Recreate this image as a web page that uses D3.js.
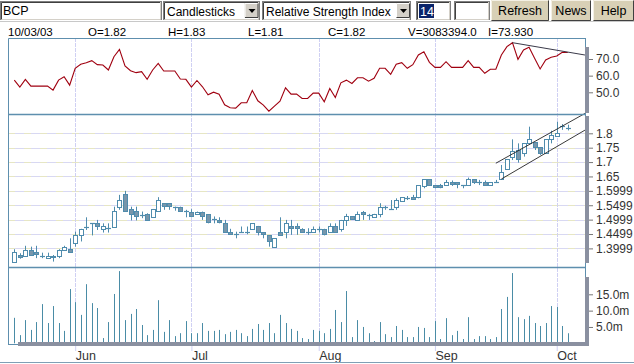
<!DOCTYPE html>
<html><head><meta charset="utf-8">
<script src="https://cdnjs.cloudflare.com/ajax/libs/d3/7.8.5/d3.min.js"></script>
<style>
html,body{margin:0;padding:0;background:#fff;overflow:hidden}
svg{display:block;font-family:"Liberation Sans",Arial,sans-serif}
</style></head><body>
<svg id="c" width="634" height="364"></svg>
<script>
// ---------- DATA ----------
const dates = [
"2003-05-16","2003-05-19","2003-05-20","2003-05-21","2003-05-22","2003-05-23","2003-05-26","2003-05-27","2003-05-28","2003-05-29","2003-05-30",
"2003-06-02","2003-06-03","2003-06-04","2003-06-05","2003-06-06","2003-06-09","2003-06-10","2003-06-11","2003-06-12","2003-06-13",
"2003-06-16","2003-06-17","2003-06-18","2003-06-19","2003-06-20","2003-06-23","2003-06-24","2003-06-25","2003-06-26","2003-06-27","2003-06-30",
"2003-07-01","2003-07-02","2003-07-03","2003-07-04","2003-07-07","2003-07-08","2003-07-09","2003-07-10","2003-07-11",
"2003-07-14","2003-07-15","2003-07-16","2003-07-17","2003-07-18","2003-07-21","2003-07-22","2003-07-23","2003-07-24","2003-07-25",
"2003-07-28","2003-07-29","2003-07-30","2003-07-31",
"2003-08-01","2003-08-04","2003-08-05","2003-08-06","2003-08-07","2003-08-08","2003-08-11","2003-08-12","2003-08-13","2003-08-14","2003-08-15",
"2003-08-18","2003-08-19","2003-08-20","2003-08-21","2003-08-22","2003-08-25","2003-08-26","2003-08-27","2003-08-28","2003-08-29",
"2003-09-01","2003-09-02","2003-09-03","2003-09-04","2003-09-05","2003-09-08","2003-09-09","2003-09-10","2003-09-11","2003-09-12",
"2003-09-15","2003-09-16","2003-09-17","2003-09-18","2003-09-19","2003-09-22","2003-09-23","2003-09-24","2003-09-25","2003-09-26",
"2003-09-29","2003-09-30","2003-10-01","2003-10-02","2003-10-03"];

const openP = [1.354,1.377,1.375,1.395,1.387,1.375,1.366,1.375,1.374,1.395,1.397,
1.418,1.445,1.476,1.487,1.487,1.467,1.470,1.476,1.545,1.588,1.537,1.530,1.516,1.519,1.508,1.530,1.557,1.557,1.545,1.545,1.531,
1.528,1.519,1.528,1.519,1.501,1.499,1.487,1.456,1.449,1.456,1.456,1.467,1.478,1.456,1.445,1.406,1.456,1.456,1.478,1.478,1.468,1.458,1.458,
1.468,1.468,1.458,1.478,1.468,1.499,1.511,1.499,1.528,1.515,1.508,1.520,1.543,1.537,1.545,1.566,1.574,1.578,1.578,1.617,1.640,
1.620,1.620,1.620,1.632,1.630,1.620,1.620,1.640,1.630,1.630,1.620,1.632,1.640,1.676,1.719,1.742,1.731,1.767,1.769,1.751,1.731,1.779,
1.791,1.826,1.82];
const highP = [1.397,1.383,1.409,1.406,1.409,1.385,1.385,1.377,1.397,1.409,1.435,
1.458,1.468,1.508,1.487,1.499,1.487,1.487,1.545,1.586,1.600,1.545,1.545,1.528,1.522,1.537,1.578,1.557,1.557,1.545,1.545,1.534,
1.536,1.528,1.528,1.519,1.511,1.508,1.499,1.468,1.458,1.476,1.476,1.487,1.478,1.456,1.445,1.435,1.508,1.499,1.499,1.487,1.470,1.470,1.476,
1.476,1.468,1.487,1.487,1.499,1.520,1.511,1.528,1.530,1.520,1.520,1.557,1.548,1.568,1.574,1.578,1.582,1.586,1.620,1.640,1.640,
1.620,1.624,1.638,1.636,1.630,1.620,1.646,1.640,1.638,1.636,1.630,1.638,1.690,1.710,1.779,1.765,1.765,1.823,1.769,1.751,1.779,1.809,
1.840,1.832,1.83];
const lowP = [1.354,1.364,1.375,1.375,1.366,1.366,1.366,1.354,1.366,1.395,1.389,
1.406,1.424,1.464,1.445,1.464,1.455,1.455,1.476,1.534,1.531,1.497,1.497,1.505,1.497,1.508,1.530,1.534,1.534,1.531,1.528,1.508,
1.508,1.519,1.499,1.487,1.487,1.487,1.455,1.447,1.435,1.456,1.449,1.467,1.445,1.435,1.406,1.406,1.447,1.435,1.447,1.447,1.456,1.447,1.456,
1.455,1.445,1.455,1.455,1.458,1.478,1.499,1.499,1.499,1.499,1.508,1.508,1.534,1.536,1.534,1.566,1.568,1.571,1.574,1.609,1.617,
1.609,1.609,1.617,1.617,1.609,1.609,1.620,1.624,1.620,1.620,1.620,1.629,1.640,1.676,1.707,1.698,1.719,1.765,1.742,1.725,1.731,1.765,
1.791,1.812,1.81];
const closeP = [1.387,1.369,1.395,1.378,1.379,1.375,1.375,1.369,1.395,1.406,1.389,
1.445,1.468,1.476,1.487,1.478,1.478,1.470,1.530,1.568,1.531,1.520,1.511,1.516,1.499,1.537,1.568,1.549,1.549,1.545,1.531,1.531,
1.511,1.528,1.513,1.490,1.501,1.491,1.458,1.449,1.449,1.456,1.456,1.487,1.458,1.449,1.427,1.435,1.447,1.487,1.470,1.470,1.458,1.458,1.468,
1.468,1.449,1.478,1.458,1.499,1.511,1.501,1.519,1.520,1.515,1.520,1.545,1.543,1.537,1.568,1.578,1.574,1.571,1.620,1.640,1.620,
1.612,1.612,1.632,1.624,1.624,1.620,1.640,1.632,1.630,1.620,1.630,1.632,1.667,1.710,1.740,1.710,1.765,1.779,1.754,1.733,1.779,1.794,
1.802,1.826,1.82];

const rsiValues = [57.3,53.1,57.8,53.7,53.7,53.7,53.7,51.3,57.3,59.3,54.3,
64.4,66.8,67.8,69.0,66.6,66.4,63.4,71.4,75.8,65.8,63.0,61.8,62.4,57.8,63.4,67.4,62.8,62.8,62.8,58.0,57.8,
53.1,57.1,53.3,48.5,50.1,48.9,42.5,40.7,40.5,43.7,43.7,51.1,44.9,42.3,38.7,41.7,44.7,52.7,48.9,48.9,46.3,46.3,49.5,
49.5,44.3,52.3,46.9,55.7,57.3,55.3,58.7,58.7,56.7,58.4,64.4,64.4,60.8,66.8,67.8,64.4,66.6,72.4,74.4,68.0,
65.0,65.0,68.4,65.0,65.0,65.0,69.0,65.0,65.0,61.4,63.8,63.8,72.4,77.4,79.8,69.8,75.4,77.0,70.4,64.0,69.4,71.0,
71.8,74.0,73.93];

const volumeM = [7.8,2.5,7.1,4.1,6.5,12.0,6.2,11.4,6.2,3.8,16.6,
12.6,8.7,18.1,12.3,10.8,1.6,6.5,15.1,22.1,7.1,9.0,10.5,5.6,2.5,4.1,13.2,3.5,7.1,2.2,3.1,6.8,
3.1,3.1,6.2,3.8,3.8,4.1,2.8,3.5,4.1,3.1,2.2,4.4,5.9,4.1,6.2,3.1,8.7,6.2,4.4,3.8,1.6,1.3,4.1,
3.8,3.1,4.4,10.2,6.5,16.0,1.9,7.1,5.0,3.1,0.7,6.5,2.8,1.9,5.3,4.1,1.9,1.9,5.0,4.7,1.9,
6.8,1.3,7.7,2.5,3.8,1.3,8.0,1.3,2.2,2.2,1.3,1.9,10.5,14.2,21.5,8.0,7.4,8.4,6.2,5.3,6.2,11.4,
11.1,5.3,3.08];

const monthNames = ["Jan","Feb","Mar","Apr","May","Jun","Jul","Aug","Sep","Oct","Nov","Dec"];
const rsiTicks = [70,60,50];
const priceTicks = [1.8,1.75,1.7,1.65,1.5999,1.5499,1.4999,1.4499,1.3999];
const volTicks = [15,10,5];
const headerItems = ["10/03/03","O=1.82","H=1.83","L=1.81","C=1.82","V=3083394.0","I=73.930"];
const rsiTrend = [[90,79.8],[103.1,72.4]];
const channelUpper = [[87,1.696],[103.1,1.869]];
const channelLower = [[88,1.641],[103.1,1.811]];

// ---------- LAYOUT ----------
const L = 8, R = 585;
const rsiTop = 38, rsiBot = 114, prTop = 114, prBot = 267, vTop = 267, vBot = 344;
const borderCol = "#5e8fae", candleCol = "#4f8cad", volCol = "#4a8ca6", gridV = "#cfd0f3";

const svg = d3.select("#c");

// ---------- TOOLBAR ----------
const tb = svg.append("g");
function sunkenBox(x, w){
  tb.append("rect").attr("x",x+0.5).attr("y",1.5).attr("width",w-1).attr("height",18).attr("fill","#fff").attr("stroke","#7f7f7f");
  tb.append("path").attr("d",`M${x+1.5},19 V2.5 H${x+w-1}`).attr("fill","none").attr("stroke","#404040");
  tb.append("path").attr("d",`M${x+1.5},19.5 H${x+w-1.5} V2`).attr("fill","none").attr("stroke","#d4d0c8");
}
function arrowBtn(x){
  tb.append("rect").attr("x",x).attr("y",3).attr("width",14).attr("height",15).attr("fill","#d4d0c8");
  tb.append("path").attr("d",`M${x+0.5},17.5 V3.5 H${x+13.5}`).attr("fill","none").attr("stroke","#fff");
  tb.append("path").attr("d",`M${x+0.5},17.5 H${x+13.5} V3.5`).attr("fill","none").attr("stroke","#404040");
  tb.append("path").attr("d",`M${x+4},9 h7 l-3.5,4 z`).attr("fill","#000");
}
function button(x, w, label){
  tb.append("rect").attr("x",x).attr("y",0).attr("width",w).attr("height",21).attr("fill","#d8d0b6");
  tb.append("path").attr("d",`M${x+0.5},20.5 V0.5 H${x+w-0.5}`).attr("fill","none").attr("stroke","#f4f0e4");
  tb.append("path").attr("d",`M${x+0.5},20.5 H${x+w-0.5} V0.5`).attr("fill","none").attr("stroke","#404040");
  tb.append("text").attr("x",x+w/2).attr("y",15).attr("text-anchor","middle").attr("font-size",12.5).attr("fill","#000").text(label);
}
sunkenBox(0,162);
tb.append("text").attr("x",3).attr("y",15).attr("font-size",12.5).text("BCP");
sunkenBox(163,97); arrowBtn(244.5);
tb.append("text").attr("x",167).attr("y",15.5).attr("font-size",12).text("Candlesticks");
sunkenBox(262,149); arrowBtn(396);
tb.append("text").attr("x",266).attr("y",15.5).attr("font-size",12).text("Relative Strength Index");
sunkenBox(416,35);
tb.append("rect").attr("x",419).attr("y",4).attr("width",15).attr("height",14).attr("fill","#0a246a");
tb.append("text").attr("x",420).attr("y",15.5).attr("font-size",12.5).attr("fill","#fff").text("14");
sunkenBox(454,36);
button(491,58,"Refresh");
button(551,40,"News");
button(593,41,"Help");
tb.append("line").attr("x1",0).attr("x2",634).attr("y1",21.5).attr("y2",21.5).attr("stroke","#c8c8c8");

// ---------- HEADER ----------
const hx = d3.scalePoint().domain(headerItems).range([8,488]);
svg.append("g").selectAll("text").data(headerItems).join("text")
  .attr("x",d=>hx(d)).attr("y",35.5).attr("font-size",11.5).attr("fill","#000").text(d=>d);

// ---------- SCALES ----------
const x = d3.scaleLinear().domain([0, dates.length-1]).range([14.3, 567.8]);
const yR = d3.scaleLinear().domain([50,70]).range([92.3,59]);
const yP = d3.scaleLinear().domain([1.3999,1.8]).range([248.4,133.3]);
const yV = d3.scaleLinear().domain([0,15]).range([343.3,294.3]);

const parse = d3.timeParse("%Y-%m-%d");
const dd = dates.map(parse);
const monthIdx = dd.map((d,i)=>i).filter(i=>i>0 && dd[i].getMonth()!==dd[i-1].getMonth());

// ---------- GRID ----------
const grid = svg.append("g");
grid.selectAll("line.pg").data(priceTicks).join("line")
  .attr("x1",L).attr("x2",R).attr("y1",d=>Math.round(yP(d))+0.5).attr("y2",d=>Math.round(yP(d))+0.5)
  .attr("stroke","#d8d8f2");
grid.selectAll("line.pg2").data(priceTicks).join("line")
  .attr("x1",L).attr("x2",R).attr("y1",d=>Math.round(yP(d))+0.5).attr("y2",d=>Math.round(yP(d))+0.5)
  .attr("stroke","#e6e6c4").attr("stroke-dasharray","7,9");
grid.selectAll("line.vg").data(monthIdx).join("line")
  .attr("x1",i=>Math.round(x(i))+0.5).attr("x2",i=>Math.round(x(i))+0.5)
  .attr("y1",rsiTop).attr("y2",vBot).attr("stroke",gridV).attr("stroke-dasharray","4,1");

// ---------- RSI ----------
svg.append("path").datum(rsiValues)
  .attr("d",d3.line().x((d,i)=>x(i)).y(d=>yR(d)))
  .attr("fill","none").attr("stroke","#a00010").attr("stroke-width",1.1);
svg.append("path").datum(rsiTrend)
  .attr("d",d3.line().x(d=>x(d[0])).y(d=>yR(d[1])))
  .attr("fill","none").attr("stroke","#3a3a4a").attr("stroke-width",1);

// ---------- CANDLES ----------
const cg = svg.append("g");
dates.forEach((d,i)=>{
  const cx = Math.round(x(i))+0.5;
  const o = openP[i], h = highP[i], l = lowP[i], c = closeP[i];
  cg.append("line").attr("x1",cx).attr("x2",cx).attr("y1",yP(h)).attr("y2",yP(l)).attr("stroke",candleCol);
  if (Math.abs(c-o) < 0.0005) {
    cg.append("line").attr("x1",cx-2.5).attr("x2",cx+2.5).attr("y1",Math.round(yP(c))+0.5).attr("y2",Math.round(yP(c))+0.5).attr("stroke",candleCol).attr("stroke-width",1.2);
  } else {
    const top = Math.round(yP(Math.max(o,c)))+0.5, bot = Math.round(yP(Math.min(o,c)))+0.5;
    cg.append("rect").attr("x",cx-2).attr("y",top).attr("width",4).attr("height",Math.max(1,bot-top))
      .attr("fill", c>o ? "#fff" : "#7896ab").attr("stroke",candleCol);
  }
});
const chLine = d3.line().x(d=>x(d[0])).y(d=>yP(d[1]));
[channelUpper, channelLower].forEach(ch=>{
  svg.append("path").datum(ch).attr("d",chLine).attr("fill","none").attr("stroke","#222").attr("stroke-width",0.9);
});

// ---------- VOLUME ----------
svg.append("g").selectAll("line").data(volumeM).join("line")
  .attr("x1",(d,i)=>Math.round(x(i))+0.5).attr("x2",(d,i)=>Math.round(x(i))+0.5)
  .attr("y1",yV(0)).attr("y2",d=>yV(d)).attr("stroke",volCol);

// ---------- PANEL BORDERS ----------
const b = svg.append("g").attr("fill","none").attr("stroke",borderCol);
b.append("path").attr("d",`M${L+0.5},${vBot} V${rsiTop+0.5} H${R}`);
b.append("line").attr("x1",L).attr("x2",R).attr("y1",prTop+0.5).attr("y2",prTop+0.5).attr("stroke-width",1.3);
b.append("line").attr("x1",L).attr("x2",R).attr("y1",vTop+0.5).attr("y2",vTop+0.5).attr("stroke-width",1.3);
b.append("line").attr("x1",R+0.5).attr("x2",R+0.5).attr("y1",rsiTop).attr("y2",vBot);
b.append("line").attr("x1",L).attr("x2",18).attr("y1",vBot+0.5).attr("y2",vBot+0.5);
svg.append("rect").attr("x",18).attr("y",342).attr("width",570).attr("height",4).attr("fill","#8a90a0");
// right axis bars
[[47,113],[116,263],[277,346]].forEach(([a,z])=>{
  svg.append("rect").attr("x",585).attr("y",a).attr("width",4).attr("height",z-a).attr("fill","#8a90a0");
});

// ---------- AXES ----------
function styleAxis(g){
  g.select(".domain").remove();
  g.selectAll(".tick line").attr("stroke","#777");
  g.selectAll(".tick text").attr("fill","#333").attr("font-size",12).attr("font-family","Liberation Sans, Arial, sans-serif");
}
svg.append("g").attr("transform","translate(589,0)")
  .call(d3.axisRight(yR).tickValues(rsiTicks).tickFormat(d3.format(".1f")).tickSize(4).tickPadding(3)).call(styleAxis);
svg.append("g").attr("transform","translate(589,0)")
  .call(d3.axisRight(yP).tickValues(priceTicks).tickFormat(d=>String(d)).tickSize(4).tickPadding(3)).call(styleAxis);
svg.append("g").attr("transform","translate(589,0)")
  .call(d3.axisRight(yV).tickValues(volTicks).tickFormat(d=>d3.format(".1f")(d)+"m").tickSize(4).tickPadding(3)).call(styleAxis);

const xa = svg.append("g").attr("transform",`translate(0,${vBot+2})`)
  .call(d3.axisBottom(x).tickValues(monthIdx).tickFormat(i=>monthNames[dd[i].getMonth()]).tickSize(5).tickPadding(3));
xa.select(".domain").remove();
xa.selectAll(".tick line").attr("stroke",gridV);
xa.selectAll(".tick text").attr("text-anchor","start").attr("dy",0).attr("y",14).attr("fill","#333")
  .attr("font-size",12.5).attr("font-family","Liberation Sans, Arial, sans-serif");

svg.append("line").attr("x1",0).attr("x2",634).attr("y1",362.5).attr("y2",362.5).attr("stroke","#7f9fb5");
</script>
</body></html>
